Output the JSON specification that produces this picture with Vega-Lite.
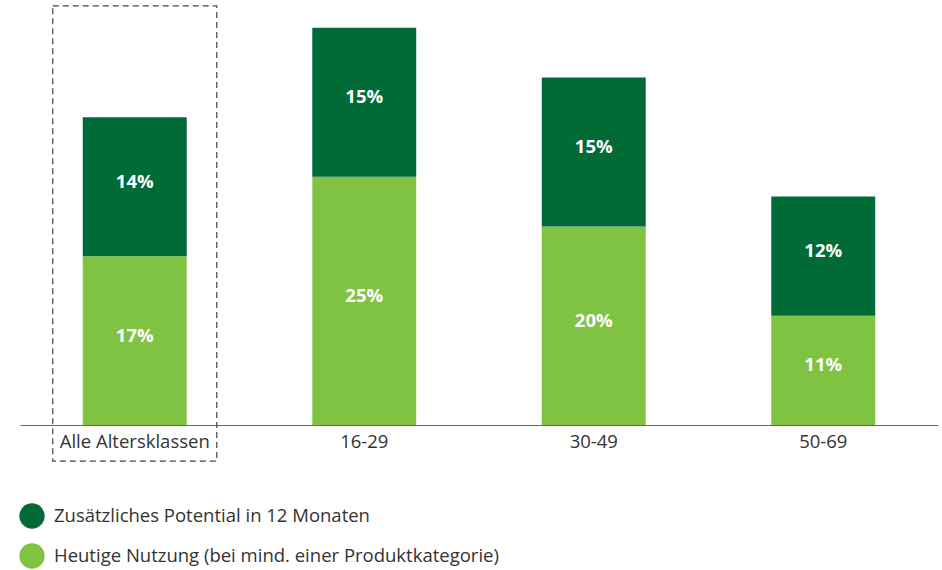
{
  "$schema": "https://vega.github.io/schema/vega-lite/v6.json",
  "width": 918,
  "height": 425,
  "autosize": {"type": "none"},
  "padding": {"left": 20, "top": 0, "right": 4, "bottom": 145},
  "background": "white",
  "config": {
    "view": {"stroke": null},
    "font": "Open Sans"
  },
  "data": {
    "values": [
      {"gruppe": "Alle Altersklassen", "serie": "Heutige Nutzung (bei mind. einer Produktkategorie)", "ord": 1, "wert": 0.17, "label": "17%"},
      {"gruppe": "Alle Altersklassen", "serie": "Zusätzliches Potential in 12 Monaten", "ord": 2, "wert": 0.14, "label": "14%"},
      {"gruppe": "16-29", "serie": "Heutige Nutzung (bei mind. einer Produktkategorie)", "ord": 1, "wert": 0.25, "label": "25%"},
      {"gruppe": "16-29", "serie": "Zusätzliches Potential in 12 Monaten", "ord": 2, "wert": 0.15, "label": "15%"},
      {"gruppe": "30-49", "serie": "Heutige Nutzung (bei mind. einer Produktkategorie)", "ord": 1, "wert": 0.20, "label": "20%"},
      {"gruppe": "30-49", "serie": "Zusätzliches Potential in 12 Monaten", "ord": 2, "wert": 0.15, "label": "15%"},
      {"gruppe": "50-69", "serie": "Heutige Nutzung (bei mind. einer Produktkategorie)", "ord": 1, "wert": 0.11, "label": "11%"},
      {"gruppe": "50-69", "serie": "Zusätzliches Potential in 12 Monaten", "ord": 2, "wert": 0.12, "label": "12%"}
    ]
  },
  "transform": [
    {"stack": "wert", "groupby": ["gruppe"], "sort": [{"field": "ord", "order": "ascending"}], "as": ["y0", "y1"]},
    {"calculate": "(datum.y0 + datum.y1) / 2", "as": "ymid"}
  ],
  "encoding": {
    "x": {
      "field": "gruppe",
      "type": "nominal",
      "sort": ["Alle Altersklassen", "16-29", "30-49", "50-69"],
      "scale": {"paddingInner": 0.547, "paddingOuter": 0.2735},
      "axis": {
        "title": null,
        "labelAngle": 0,
        "labelFontSize": 18.5,
        "labelColor": "#333333",
        "labelFont": "Open Sans",
        "labelPadding": 7,
        "ticks": false,
        "domainColor": "#666666",
        "domainWidth": 1.2
      }
    }
  },
  "layer": [
    {
      "mark": {"type": "bar"},
      "encoding": {
        "y": {"field": "y0", "type": "quantitative", "scale": {"domain": [0, 0.428], "nice": false}, "axis": null},
        "y2": {"field": "y1"},
        "color": {
          "field": "serie",
          "type": "nominal",
          "scale": {
            "domain": ["Zusätzliches Potential in 12 Monaten", "Heutige Nutzung (bei mind. einer Produktkategorie)"],
            "range": ["#006b36", "#80c342"]
          },
          "legend": {
            "title": null,
            "orient": "none",
            "legendX": -1,
            "legendY": 503,
            "direction": "vertical",
            "symbolType": "circle",
            "symbolSize": 640,
            "symbolStrokeWidth": 0,
            "labelFontSize": 18.5,
            "labelFont": "Open Sans",
            "labelColor": "#333333",
            "labelOffset": 9,
            "rowPadding": 14,
            "padding": 0,
            "labelLimit": 700
          }
        }
      }
    },
    {
      "mark": {"type": "text", "color": "white", "fontWeight": "bold", "fontSize": 18.5, "font": "Open Sans", "dy": -5},
      "encoding": {
        "y": {"field": "ymid", "type": "quantitative"},
        "text": {"field": "label"}
      }
    },
    {
      "transform": [{"filter": "datum.gruppe === 'Alle Altersklassen' && datum.ord === 1"}],
      "mark": {"type": "bar", "fill": null, "fillOpacity": 0, "stroke": "#444444", "strokeWidth": 1.2, "strokeDash": [6, 4], "width": 164, "clip": false},
      "encoding": {
        "y": {"datum": 0.422},
        "y2": {"datum": -0.0363}
      }
    }
  ]
}
